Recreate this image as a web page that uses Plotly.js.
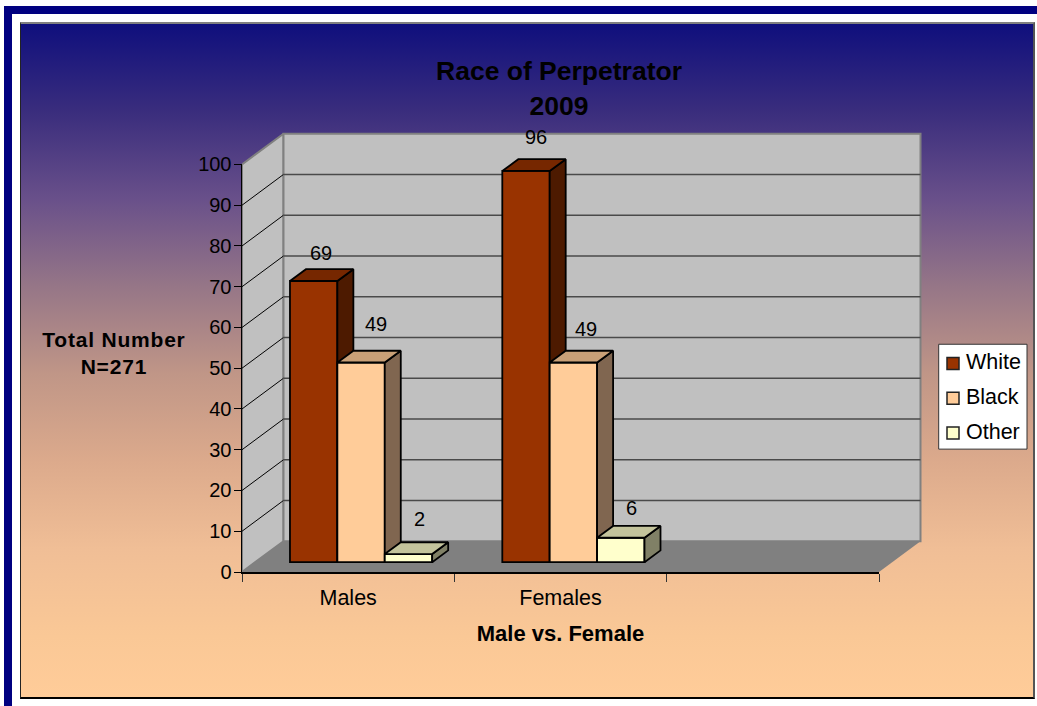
<!DOCTYPE html>
<html>
<head>
<meta charset="utf-8">
<script src="https://cdn.plot.ly/plotly-3.0.1.min.js"></script>
<style>
html,body{margin:0;padding:0;background:#fff;width:1037px;height:706px;overflow:hidden}
#frameTop{position:absolute;left:4px;top:6px;width:1033px;height:8px;background:#000080}
#frameLeft{position:absolute;left:4px;top:6px;width:8px;height:700px;background:#000080}
#box{position:absolute;left:20px;top:22px;width:1012px;height:673px;
 border-top:2px solid #808080;border-left:1px solid #222;border-bottom:2px solid #000;border-right:2px solid #555;
 background:linear-gradient(to bottom,#0f0f7d 0%,#3a2d7d 13%,#69508a 26%,#967687 39%,#c09687 52%,#dcaa8c 65%,#f0be96 78%,#fac896 91%,#ffcc99 100%)}
#chart{position:absolute;left:0;top:0;width:1037px;height:706px}
.xtitle{letter-spacing:.8px}
.annotation[data-index="9"] text{letter-spacing:.8px}
</style>
</head>
<body>
<div id="frameTop"></div><div id="frameLeft"></div><div id="box"></div>
<div id="chart"></div>
<script>
const categories = ["Males", "Females"];
const seriesNames = ["White", "Black", "Other"];
const white = [69, 96];
const black = [49, 49];
const other = [2, 6];
const yTicks = [0, 10, 20, 30, 40, 50, 60, 70, 80, 90, 100];
const xTickMarks = [0, 1, 2, 3];

const faceColors = ["#993300", "#FFCC99", "#FFFFCC"];
const topColors = ["#762700", "#C9A077", "#C4C49C"];
const sideColors = ["#4D1A00", "#806650", "#808066"];
const values = [white, black, other];

// geometry: front plane of the 3-D box and the wider plot area that holds the walls
const L = 242, R = 879, T = 164.5, B = 572.5, PR = 923, PT = 131;
const PW = PR - L, PH = B - PT;
const xUnit = (R - L) / 3, yUnit = (B - T) / 100;
const wallDx = 41.5 / xUnit, wallDy = 30.8 / yUnit;
const barShiftX = 12.9 / xUnit, barShiftY = 9.8 / yUnit;
const barW = 47.4 / xUnit;
const barDx = 16 / xUnit, barDy = 11.8 / yUnit;
const labelShift = [[[7, 28], [10, 34]], [[15, 39], [13, 34]], [[11, 35], [11, 30]]];
const px = v => (v - L) / PW, py = v => (B - v) / PH;

const poly = (pts, color, line, xa, ya) => ({
  type: "scatter", mode: line ? "lines" : "none", x: pts.map(p => p && p[0]), y: pts.map(p => p && p[1]),
  fill: "toself", fillcolor: color, line: line || {width: 0}, xaxis: xa, yaxis: ya,
  hoverinfo: "skip", showlegend: false
});
const wallLine = {color: "#808080", width: 2};
const traces = [
  poly([[0, 0], [0, 100], [wallDx, 100 + wallDy], [wallDx, wallDy], [0, 0]], "#C0C0C0", wallLine, "x", "y"),
  poly([[wallDx, wallDy], [wallDx, 100 + wallDy], [3 + wallDx, 100 + wallDy], [3 + wallDx, wallDy], [wallDx, wallDy]], "#C0C0C0", wallLine, "x", "y"),
  poly([[0, 0], [3, 0], [3 + wallDx, wallDy], [wallDx, wallDy], [0, 0]], "#808080", null, "x", "y")
];
const inner = yTicks.slice(1, -1);
traces.push({type: "scatter", mode: "lines", xaxis: "x", yaxis: "y", hoverinfo: "skip", showlegend: false,
  x: inner.flatMap(() => [0, wallDx, null]), y: inner.flatMap(t => [t, t + wallDy, null]), line: {color: "#000", width: 1}});
traces.push({type: "scatter", mode: "lines", xaxis: "x", yaxis: "y", hoverinfo: "skip", showlegend: false,
  x: inner.flatMap(() => [wallDx, 3 + wallDx, null]), y: inner.flatMap(t => [t + wallDy, t + wallDy, null]), line: {color: "#4a4a4a", width: 1.5}});
// keeps the visible front axes in the figure
traces.push({type: "scatter", mode: "none", x: [0], y: [0], xaxis: "x2", yaxis: "y2", hoverinfo: "skip", showlegend: false});

const edge = {color: "#000", width: 1.8};
const annotations = [];
values.forEach((vals, s) => {
  const xa = "x" + (s + 3), ya = "y" + (s + 3);
  const off = (s - 1.5) * barW;
  const centres = categories.map((_, c) => c + 0.5);
  traces.push({type: "bar", name: seriesNames[s], x: centres, y: vals, width: barW, offset: off,
    customdata: categories, marker: {color: faceColors[s], line: edge}, xaxis: xa, yaxis: ya, showlegend: false});
  const top = [], side = [];
  vals.forEach((v, c) => {
    const x0 = centres[c] + off, x1 = x0 + barW;
    top.push([x0, v], [x1, v], [x1 + barDx, v + barDy], [x0 + barDx, v + barDy], [x0, v], null);
    side.push([x1, 0], [x1, v], [x1 + barDx, v + barDy], [x1 + barDx, barDy], [x1, 0], null);
    annotations.push({xref: xa, yref: ya, x: x0 + barW / 2, y: v, text: String(v), showarrow: false,
      xanchor: "center", yanchor: "middle", xshift: labelShift[s][c][0], yshift: labelShift[s][c][1],
      font: {size: 20, color: "#000"}});
  });
  traces.push(poly(side, sideColors[s], edge, xa, ya));
  traces.push(poly(top, topColors[s], edge, xa, ya));
});

const shapes = [{type: "rect", xref: "paper", yref: "paper", x0: px(938.7), x1: px(1027), y0: py(344.5), y1: py(449.5),
  fillcolor: "#fff", line: {color: "#333", width: 1}}];
seriesNames.forEach((n, s) => {
  const cy = 363.7 + 34.8 * s;
  shapes.push({type: "rect", xref: "paper", yref: "paper", x0: px(947), x1: px(959), y0: py(cy - 6), y1: py(cy + 6),
    fillcolor: faceColors[s], line: {color: "#222", width: 1.5}});
  annotations.push({xref: "paper", yref: "paper", x: px(964), y: py(cy - 1), text: n, showarrow: false,
    xanchor: "left", yanchor: "middle", font: {size: 21.5, color: "#000"}});
});
annotations.push({xref: "paper", yref: "paper", x: px(113.5), y: py(353.5), text: "<b>Total Number</b><br><b>N=271</b>", showarrow: false,
  xanchor: "center", yanchor: "middle", align: "center", font: {size: 21, color: "#000"}});

const fnt = "'Liberation Sans', Arial, sans-serif";
const barX = () => ({range: [-barShiftX, PW / xUnit - barShiftX], overlaying: "x", visible: false, fixedrange: true});
const barY = () => ({range: [-barShiftY, PH / yUnit - barShiftY], overlaying: "y", visible: false, fixedrange: true});
const layout = {
  width: 1037, height: 706, autosize: false, showlegend: false,
  paper_bgcolor: "rgba(0,0,0,0)", plot_bgcolor: "rgba(0,0,0,0)",
  margin: {l: L, r: 1037 - PR, t: PT, b: 706 - B, pad: 0},
  font: {family: fnt, size: 20, color: "#000"},
  title: {text: "<b><span style='font-size:26.5px'>Race of Perpetrator</span></b><br><b><span style='font-size:26.5px'>2009</span></b>",
    font: {size: 27, color: "#000"}, x: 559 / 1037, xanchor: "center", xref: "container", y: 1 - 80 / 706, yanchor: "middle", yref: "container", automargin: false},
  xaxis: {range: [0, PW / xUnit], visible: false, fixedrange: true},
  yaxis: {range: [0, PH / yUnit], visible: false, fixedrange: true},
  xaxis2: {domain: [0, (R - L) / PW], anchor: "y2", range: [0, 3], tickmode: "array", tickvals: [0.5, 1.5], ticktext: categories, ticks: "outside", ticklen: 6,
    tickfont: {size: 21.5}, title: {text: "<b>Male vs. Female</b>", font: {size: 22, color: "#000"}, standoff: 16},
    tickcolor: "rgba(0,0,0,0)", showline: true, linecolor: "#000", linewidth: 1.5, showgrid: false, zeroline: false, fixedrange: true,
    minor: {tickmode: "array", tickvals: xTickMarks, ticks: "outside", ticklen: 8, tickwidth: 1, tickcolor: "#333", showgrid: false}},
  yaxis2: {domain: [0, (B - T) / PH], anchor: "x2", range: [0, 100], tickmode: "array", tickvals: yTicks, ticks: "outside", ticklen: 7, tickwidth: 1, tickcolor: "#000",
    ticklabelstandoff: -2, showline: true, linecolor: "#000", linewidth: 1.5, showgrid: false, zeroline: false, fixedrange: true},
  xaxis3: barX(), yaxis3: barY(),
  xaxis4: barX(), yaxis4: barY(),
  xaxis5: barX(), yaxis5: barY(),
  shapes, annotations
};
Plotly.newPlot("chart", traces, layout, {displayModeBar: false, staticPlot: true});
</script>
</body>
</html>
